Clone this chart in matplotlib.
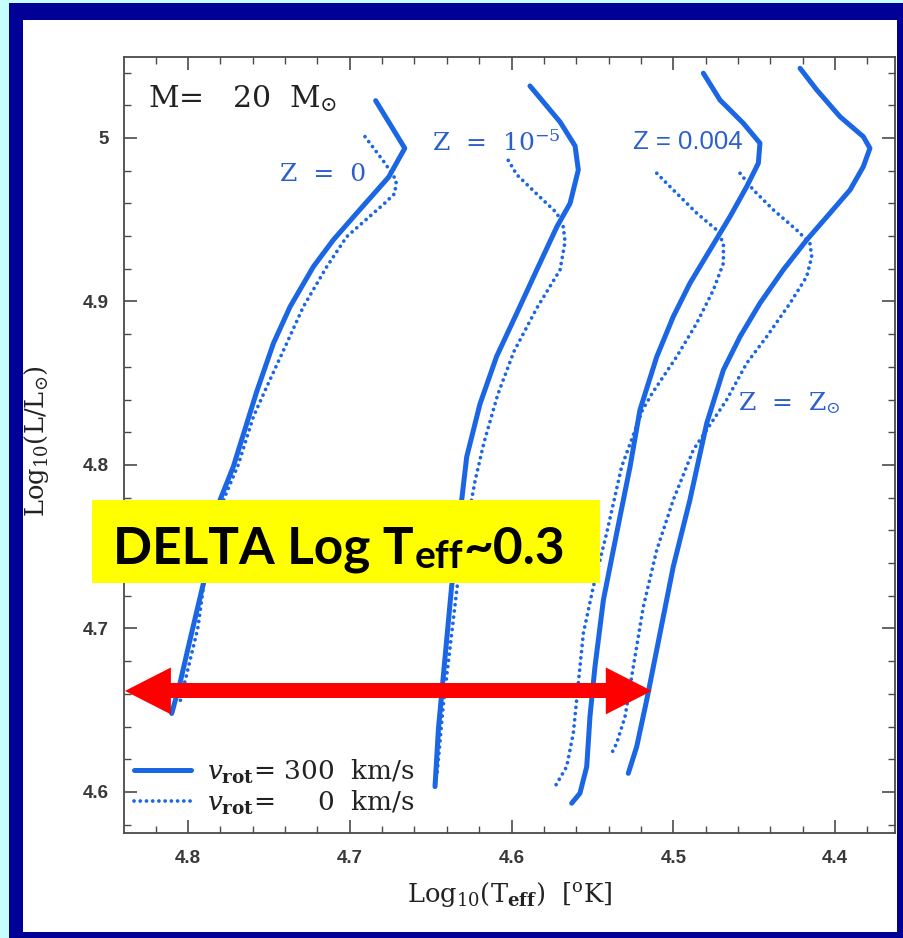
import matplotlib
matplotlib.use("Agg")
import matplotlib.pyplot as plt
from matplotlib.patches import Rectangle
from matplotlib.ticker import FixedLocator, MultipleLocator
from matplotlib.font_manager import FontProperties

# ---------------- data (log Teff, log L/Lsun) ----------------
z0_rot_T = [4.684, 4.666, 4.676, 4.6957, 4.7102, 4.7225, 4.7369, 4.7472, 4.7575, 4.772, 4.7802, 4.7905, 4.7988, 4.805, 4.8101]
z0_rot_L = [5.0228, 4.9937, 4.976, 4.954, 4.9376, 4.9213, 4.8968, 4.8744, 4.845, 4.799, 4.7786, 4.7276, 4.693, 4.6665, 4.648]
z0_norot_T = [4.6906, 4.6782, 4.6712, 4.6722, 4.6785, 4.6854, 4.7019, 4.7142, 4.7287, 4.739, 4.7513, 4.7596, 4.769, 4.7775, 4.787, 4.794, 4.805]
z0_norot_L = [5.0008, 4.9845, 4.974, 4.966, 4.960, 4.954, 4.9396, 4.9213, 4.8968, 4.8744, 4.8479, 4.8295, 4.80, 4.78, 4.75, 4.70, 4.655]

z5_rot_T = [4.5886, 4.570, 4.5607, 4.5587, 4.5638, 4.572, 4.5844, 4.5968, 4.6092, 4.6195, 4.6277, 4.6308, 4.637, 4.6411, 4.6452, 4.6473]
z5_rot_L = [5.0318, 5.0098, 4.9951, 4.9804, 4.96, 4.9456, 4.9193, 4.8927, 4.8664, 4.8373, 4.805, 4.7786, 4.726, 4.6823, 4.6385, 4.6033]
z5_norot_T = [4.602, 4.5968, 4.5844, 4.572, 4.568, 4.5669, 4.570, 4.5845, 4.5985, 4.6085, 4.617, 4.6225, 4.6318, 4.637, 4.6422, 4.6462]
z5_norot_L = [4.9863, 4.9776, 4.9657, 4.9541, 4.9456, 4.9366, 4.9193, 4.8957, 4.8694, 4.8431, 4.8138, 4.7905, 4.7407, 4.6969, 4.6532, 4.6092]

z004_rot_T = [4.4814, 4.4711, 4.4567, 4.4464, 4.4474, 4.4546, 4.4649, 4.4773, 4.4897, 4.5, 4.5102, 4.5206, 4.5267, 4.535, 4.5432, 4.5484, 4.5515, 4.5535, 4.5577, 4.5628]
z004_rot_L = [5.0396, 5.0232, 5.009, 4.9968, 4.9845, 4.9702, 4.9519, 4.9315, 4.9111, 4.8907, 4.8662, 4.8336, 4.799, 4.7582, 4.7174, 4.6766, 4.6461, 4.6155, 4.5992, 4.5931]
z004_norot_T = [4.5102, 4.5, 4.4855, 4.4731, 4.469, 4.469, 4.4752, 4.4855, 4.4979, 4.513, 4.519, 4.5319, 4.5412, 4.5494, 4.5556, 4.5587, 4.5618, 4.5659, 4.5731]
z004_norot_L = [4.9784, 4.9682, 4.954, 4.9437, 4.9356, 4.9234, 4.907, 4.8867, 4.8662, 4.8439, 4.8336, 4.799, 4.7582, 4.7256, 4.697, 4.6665, 4.6359, 4.6155, 4.6033]

zsun_rot_T = [4.4216, 4.4113, 4.3969, 4.3825, 4.3784, 4.3825, 4.3907, 4.4031, 4.4175, 4.432, 4.4464, 4.4587, 4.469, 4.4793, 4.4897, 4.5, 4.5082, 4.5164, 4.5226, 4.5278]
zsun_rot_L = [5.0426, 5.0294, 5.013, 5.0008, 4.9937, 4.9824, 4.9682, 4.954, 4.9376, 4.9193, 4.8989, 4.8785, 4.8581, 4.8255, 4.7786, 4.7378, 4.697, 4.6563, 4.6277, 4.6114]
zsun_norot_T = [4.4587, 4.4505, 4.4381, 4.4237, 4.4155, 4.4144, 4.4175, 4.4278, 4.4422, 4.4546, 4.467, 4.4876, 4.5, 4.5102, 4.5185, 4.5247, 4.5298, 4.535, 4.5391]
zsun_norot_L = [4.9784, 4.9682, 4.956, 4.9437, 4.9356, 4.9274, 4.9152, 4.8989, 4.8785, 4.8622, 4.8398, 4.8092, 4.7786, 4.748, 4.7133, 4.6766, 4.6461, 4.6298, 4.6216]

x_ticks = [4.8, 4.7, 4.6, 4.5, 4.4]
x_tick_labels = ['4.8', '4.7', '4.6', '4.5', '4.4']
y_ticks = [4.6, 4.7, 4.8, 4.9, 5.0]
y_tick_labels = ['4.6', '4.7', '4.8', '4.9', '5']

legend_labels = [r'$v_{\mathbf{rot}}$= 300  km/s', r'$v_{\mathbf{rot}}$=     0  km/s']
z_labels = [r'Z  =  0', r'Z  =  10$^{-5}$', 'Z = 0.004', r'Z  =  Z$_{\odot}$']
z_label_pos = [(4.7431, 4.9774), (4.6492, 4.9969), (4.5249, 4.9976), (4.460, 4.8379)]
delta_parts = ['DELTA Log T', 'eff', '~0.3']
arrow_T = [4.839, 4.5133]
arrow_L = 4.6618

# ---------------- style ----------------
BLUE = '#1b66e4'
LBL = '#2b5fcc'
W, H = 904, 938

fig = plt.figure(figsize=(W / 100, H / 100), dpi=100)
fig.patch.set_facecolor('#c6fdfd')
fig.add_artist(Rectangle((9 / W, 0), 1 - 9 / W, (H - 3) / H, transform=fig.transFigure,
                         facecolor='#000096', edgecolor='none', zorder=-3))
fig.add_artist(Rectangle((23 / W, 6 / H), 874 / W, 912 / H, transform=fig.transFigure,
                         facecolor='white', edgecolor='none', zorder=-2))

ax = fig.add_axes([124 / W, 105 / H, 771 / W, 776 / H])
ax.set_facecolor('none')
ax.set_xlim(4.8396, 4.3629)
ax.set_ylim(4.5749, 5.0495)

solid_kw = dict(color=BLUE, lw=3.6, solid_joinstyle='round', solid_capstyle='round')
dot_kw = dict(color=BLUE, lw=2.7, linestyle=(0, (0.01, 1.65)), dash_capstyle='round')

h_rot, = ax.plot(z0_rot_T, z0_rot_L, **solid_kw)
h_norot, = ax.plot(z0_norot_T, z0_norot_L, **dot_kw)
ax.plot(z5_rot_T, z5_rot_L, **solid_kw)
ax.plot(z5_norot_T, z5_norot_L, **dot_kw)
ax.plot(z004_rot_T, z004_rot_L, **solid_kw)
ax.plot(z004_norot_T, z004_norot_L, **dot_kw)
ax.plot(zsun_rot_T, zsun_rot_L, **solid_kw)
ax.plot(zsun_norot_T, zsun_norot_L, **dot_kw)

# ticks
ax.xaxis.set_major_locator(FixedLocator(x_ticks))
ax.yaxis.set_major_locator(FixedLocator(y_ticks))
ax.xaxis.set_minor_locator(MultipleLocator(0.02))
ax.yaxis.set_minor_locator(MultipleLocator(0.02))
ax.set_xticklabels(x_tick_labels)
ax.set_yticklabels(y_tick_labels)
ax.tick_params(which='both', direction='in', top=True, right=True, color='#4a4a4a')
ax.tick_params(which='major', length=9.5, width=1.2)
ax.tick_params(which='minor', length=5, width=1.0)
ax.tick_params(axis='x', which='major', pad=12)
ax.tick_params(axis='y', which='major', pad=11)
tick_fp = FontProperties(family='Liberation Sans', weight='bold', size=13.5)
for lab in ax.get_xticklabels() + ax.get_yticklabels():
    lab.set_fontproperties(tick_fp)
    lab.set_color('#383838')
for sp in ax.spines.values():
    sp.set_color('#4a4a4a')
    sp.set_linewidth(1.3)

# axis labels
ax.set_xlabel(r'Log$_{10}$(T$_{\mathbf{eff}}$)  [$^{\mathrm{o}}$K]', family='DejaVu Serif',
              fontsize=18.5, color='#222222', math_fontfamily='dejavuserif')
ax.xaxis.set_label_coords(0.5, -0.06)
ax.set_ylabel(r'Log$_{10}$(L/L$_{\odot}$)', family='DejaVu Serif', fontsize=18.5,
              color='#222222', math_fontfamily='dejavuserif')
ax.yaxis.set_label_coords(-0.095, 0.505)

# annotations
ax.text(0.031, 0.946, r'M=   20  M$_{\odot}$', transform=ax.transAxes, family='DejaVu Serif',
        fontsize=21.5, color='#222222', va='center', ha='left', math_fontfamily='dejavuserif')
for i, (lab, (tx, ty)) in enumerate(zip(z_labels, z_label_pos)):
    if i == 2:
        ax.text(tx, ty, lab, family='Liberation Sans', fontsize=18.5, color=LBL,
                va='center', ha='left')
    else:
        ax.text(tx, ty, lab, family='DejaVu Serif', fontsize=18, color=LBL,
                va='center', ha='left', math_fontfamily='dejavuserif')

leg = ax.legend([h_rot, h_norot], legend_labels, loc='lower left',
                bbox_to_anchor=(0.013, 0.021), frameon=False,
                prop=FontProperties(family='DejaVu Serif', size=19),
                handlelength=2.15, handletextpad=0.6, labelspacing=0.1,
                borderpad=0, borderaxespad=0)
for t in leg.get_texts():
    t.set_math_fontfamily('dejavuserif')
    t.set_color('#222222')

# yellow box with text
ax.add_patch(Rectangle((92 / W, (H - 583) / H), 508 / W, 83 / H, transform=fig.transFigure,
                       facecolor='#ffff00', edgecolor='none', zorder=10, clip_on=False))
t1 = ax.text(113 / W, (H - 563) / H, delta_parts[0], transform=fig.transFigure, family='Lato',
             weight='bold', fontsize=37, color='black', va='baseline', ha='left', zorder=11)
t2 = ax.annotate(delta_parts[1], xy=(1, 0), xycoords=t1, xytext=(0.5, -1), textcoords='offset points',
                 family='Lato', weight='bold', fontsize=28, color='black', va='bottom', ha='left',
                 zorder=11)
t3 = ax.annotate(delta_parts[2], xy=(1, 0), xycoords=(t2, t1), xytext=(0, 0),
                 textcoords='offset points', family='Lato', weight='bold', fontsize=37,
                 color='black', va='bottom', ha='left', zorder=11)

# red double arrow: one shaft plus two heads pointing outward
head_len, head_w, shaft_w = 0.0284, 0.0287, 0.0092
left_T, right_T = arrow_T
ax.arrow(left_T - 0.6 * head_len, arrow_L, (right_T + 0.6 * head_len) - (left_T - 0.6 * head_len), 0,
         width=shaft_w, head_width=shaft_w, head_length=0, length_includes_head=True,
         color='red', lw=0, zorder=12, clip_on=False)
for end, sgn in ((left_T, 1), (right_T, -1)):
    ax.arrow(end - sgn * head_len, arrow_L, sgn * head_len, 0, width=0.0001,
             head_width=head_w, head_length=head_len, length_includes_head=True,
             color='red', lw=0, zorder=12, clip_on=False)

fig.savefig('out.png', dpi=100)
